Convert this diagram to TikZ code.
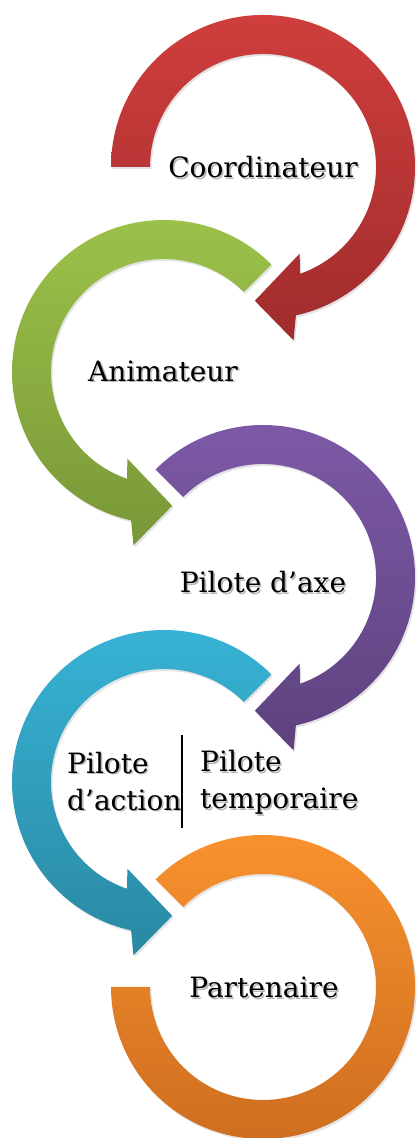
\documentclass[tikz,border=0pt]{standalone}
\usepackage{fontspec}
\setmainfont{DejaVu Serif}
\usetikzlibrary{shadows}

\definecolor{redtop}{HTML}{CF3E3D}
\definecolor{redbot}{HTML}{A02C2C}
\definecolor{greentop}{HTML}{9DC34A}
\definecolor{greenbot}{HTML}{789738}
\definecolor{purpletop}{HTML}{7D5AA8}
\definecolor{purplebot}{HTML}{5E427E}
\definecolor{cyantop}{HTML}{38B4D7}
\definecolor{cyanbot}{HTML}{2A88A2}
\definecolor{orangetop}{HTML}{FA932F}
\definecolor{orangebot}{HTML}{CC6C1F}

% text with a soft shadow
\newcommand{\shtext}[1]{\leavevmode\rlap{\kern1.6pt\raisebox{-1.8pt}{\color{black!28}#1}}#1}

\begin{document}
\begin{tikzpicture}[x = 1pt, y = 1pt,
  ring/.style = {drop shadow = {opacity = 0.22, shadow xshift = 1.5pt, shadow yshift = -2pt}},
  rolename/.style = {font = \fontsize{28}{37}\selectfont, inner sep = 0pt}]

\useasboundingbox (0,0) rectangle (419,1138);

\coordinate (c1) at (263,971);
\coordinate (c2) at (164,766);
\coordinate (c3) at (263,561);
\coordinate (c4) at (164,356);
\coordinate (c5) at (263,151);

% rings
\begin{scope}[shift = {(c1)}]
\path [ring, top color = redtop, bottom color = redbot] (180:152) arc [start angle = 180, end angle = -77.5, radius = 152] -- (-80:176) -- (-93.5:134) -- (-67:94) -- (-71:113) arc [start angle = -71, end angle = 180, radius = 113] -- cycle;
\end{scope}
\begin{scope}[shift = {(c2)}]
\path [ring, top color = greentop, bottom color = greenbot] (45:152) arc [start angle = 45, end angle = 257.5, radius = 152] -- (260:176) -- (273.5:134) -- (247:94) -- (251:113) arc [start angle = 251, end angle = 45, radius = 113] -- cycle;
\end{scope}
\begin{scope}[shift = {(c3)}]
\path [ring, top color = purpletop, bottom color = purplebot] (135:152) arc [start angle = 135, end angle = -77.5, radius = 152] -- (-80:176) -- (-93.5:134) -- (-67:94) -- (-71:113) arc [start angle = -71, end angle = 135, radius = 113] -- cycle;
\end{scope}
\begin{scope}[shift = {(c4)}]
\path [ring, top color = cyantop, bottom color = cyanbot] (45:152) arc [start angle = 45, end angle = 257.5, radius = 152] -- (260:176) -- (273.5:134) -- (247:94) -- (251:113) arc [start angle = 251, end angle = 45, radius = 113] -- cycle;
\end{scope}
\begin{scope}[shift = {(c5)}]
\path [ring, top color = orangetop, bottom color = orangebot] (135:152) arc [start angle = 135, end angle = -180, radius = 152] -- (-180:113) arc [start angle = -180, end angle = 135, radius = 113] -- cycle;
\end{scope}

% roles
\node [rolename] (t1) at (263,970) {\shtext{Coordinateur}};
\node [rolename] (t2) at (163,766) {\shtext{Animateur}};
\node [rolename] (t3) at (263,555) {\shtext{Pilote d’axe}};
\node [rolename, align = left, anchor = west] (t4) at (67,356) {\shtext{Pilote}\\\shtext{d’action}};
\node [rolename, align = left, anchor = west] (t5) at (200,355) {\shtext{Pilote}\\\shtext{temporaire}};
\node [rolename] (t6) at (264,150) {\shtext{Partenaire}};

\coordinate (s1) at (182,403);
\coordinate (s2) at (182,310);
\draw [line width = 1.2pt] (s1) -- (s2);
\end{tikzpicture}
\end{document}
